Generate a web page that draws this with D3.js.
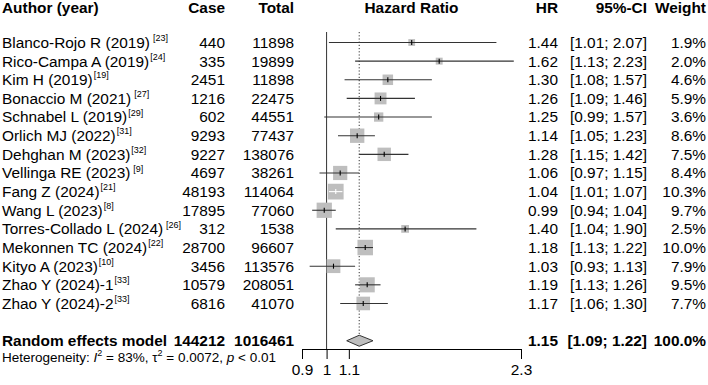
<!DOCTYPE html>
<html>
<head>
<meta charset="utf-8">
<script src="https://cdn.jsdelivr.net/npm/d3@7"></script>
<style>
  body { margin: 0; background: #fff; }
  svg text { font-family: "Liberation Sans", Arial, sans-serif; fill: #000; }
</style>
</head>
<body>
<div id="chart"></div>
<script>
// study rows
const authors = ["Blanco-Rojo R (2019)", "Rico-Campa A (2019)", "Kim H (2019)", "Bonaccio M (2021)",
  "Schnabel L (2019)", "Orlich MJ (2022)", "Dehghan M (2023)", "Vellinga RE (2023)", "Fang Z (2024)",
  "Wang L (2023)", "Torres-Collado L (2024)", "Mekonnen TC (2024)", "Kityo A (2023)",
  "Zhao Y (2024)-1", "Zhao Y (2024)-2"];
const refs = ["23", "24", "19", "27", "29", "31", "32", "9", "21", "8", "26", "22", "10", "33", "33"];
const refGap = [true, false, false, true, false, false, false, true, false, false, true, false, false, false, false];
const cases = [440, 335, 2451, 1216, 602, 9293, 9227, 4697, 48193, 17895, 312, 28700, 3456, 10579, 6816];
const totals = [11898, 19899, 11898, 22475, 44551, 77437, 138076, 38261, 114064, 77060, 1538, 96607, 113576, 208051, 41070];
const hr = [1.44, 1.62, 1.30, 1.26, 1.25, 1.14, 1.28, 1.06, 1.04, 0.99, 1.40, 1.18, 1.03, 1.19, 1.17];
const lower = [1.01, 1.13, 1.08, 1.09, 0.99, 1.05, 1.15, 0.97, 1.01, 0.94, 1.04, 1.13, 0.93, 1.13, 1.06];
const upper = [2.07, 2.23, 1.57, 1.46, 1.57, 1.23, 1.42, 1.15, 1.07, 1.04, 1.90, 1.22, 1.13, 1.26, 1.30];
const weights = [1.9, 2.0, 4.6, 5.9, 3.6, 8.6, 7.5, 8.4, 10.3, 9.7, 2.5, 10.0, 7.9, 9.5, 7.7];

// pooled estimate
const pooled = { label: "Random effects model", cases: 144212, total: 1016461, hr: 1.15, lower: 1.09, upper: 1.22, weight: 100.0 };
const tickValues = [0.9, 1, 1.1, 2.3];

const width = 708, height = 385;
const fs = 15.4;
const rowY = i => 42.5 + i * 18.64;

const svg = d3.select("#chart").append("svg")
  .attr("width", width)
  .attr("height", height);

const x = d3.scaleLog().domain([0.9, 2.3]).range([302, 521]);
const fmt2 = d3.format(".2f");
const pct = d => d3.format(".1f")(d) + "%";

// column right edges
const col = { author: 2, cases: 225, total: 294, hr: 558, ci: 647, weight: 706 };

// headers
const hy = 12.5;
const header = svg.append("g").attr("font-weight", "bold").attr("font-size", fs);
header.append("text").attr("x", col.author).attr("y", hy).text("Author (year)");
header.append("text").attr("x", col.cases).attr("y", hy).attr("text-anchor", "end").text("Case");
header.append("text").attr("x", col.total).attr("y", hy).attr("text-anchor", "end").text("Total");
header.append("text").attr("x", (x.range()[0] + x.range()[1]) / 2).attr("y", hy).attr("text-anchor", "middle").text("Hazard Ratio");
header.append("text").attr("x", col.hr).attr("y", hy).attr("text-anchor", "end").text("HR");
header.append("text").attr("x", col.ci).attr("y", hy).attr("text-anchor", "end").text("95%-CI");
header.append("text").attr("x", col.weight).attr("y", hy).attr("text-anchor", "end").text("Weight");

// reference lines
svg.append("line")
  .attr("x1", x(1)).attr("x2", x(1))
  .attr("y1", 32).attr("y2", 349)
  .attr("stroke", "#333").attr("stroke-width", 1);
svg.append("line")
  .attr("x1", x(pooled.hr)).attr("x2", x(pooled.hr))
  .attr("y1", 32).attr("y2", rowY(16) - 6)
  .attr("stroke", "#333").attr("stroke-width", 1).attr("stroke-dasharray", "1.2,2");

// study rows
const rows = svg.append("g")
  .selectAll("g")
  .data(d3.range(authors.length))
  .join("g")
    .attr("transform", i => `translate(0,${rowY(i)})`)
    .attr("font-size", fs);

const lab = rows.append("text")
  .attr("x", col.author).attr("dy", "0.35em")
  .text(i => authors[i]);
lab.append("tspan")
  .attr("font-size", 9).attr("dy", "-0.75em").attr("dx", i => refGap[i] ? 3 : 1)
  .text(i => `[${refs[i]}]`);

rows.append("text").attr("x", col.cases).attr("dy", "0.35em").attr("text-anchor", "end").text(i => cases[i]);
rows.append("text").attr("x", col.total).attr("dy", "0.35em").attr("text-anchor", "end").text(i => totals[i]);
rows.append("text").attr("x", col.hr).attr("dy", "0.35em").attr("text-anchor", "end").text(i => fmt2(hr[i]));
rows.append("text").attr("x", col.ci).attr("dy", "0.35em").attr("text-anchor", "end")
  .text(i => `[${fmt2(lower[i])}; ${fmt2(upper[i])}]`);
rows.append("text").attr("x", col.weight).attr("dy", "0.35em").attr("text-anchor", "end").text(i => pct(weights[i]));

// boxes sized by weight (area)
const side = i => 4.9 * Math.sqrt(weights[i]);
rows.append("rect")
  .attr("x", i => x(hr[i]) - side(i) / 2)
  .attr("y", i => -side(i) / 2)
  .attr("width", side).attr("height", side)
  .attr("fill", "#bebebe");

// CI line is white when it fits inside the box
const inside = i => x(lower[i]) >= x(hr[i]) - side(i) / 2 && x(upper[i]) <= x(hr[i]) + side(i) / 2;
rows.append("line")
  .attr("x1", i => x(lower[i])).attr("x2", i => x(upper[i]))
  .attr("stroke", i => inside(i) ? "#fff" : "#333").attr("stroke-width", 1.1);
rows.append("line")
  .attr("x1", i => x(hr[i])).attr("x2", i => x(hr[i]))
  .attr("y1", -2.5).attr("y2", 2.5)
  .attr("stroke", i => inside(i) ? "#fff" : "#000").attr("stroke-width", 1.1);

// pooled row
const py = rowY(16);
const pg = svg.append("g").attr("transform", `translate(0,${py})`).attr("font-size", fs).attr("font-weight", "bold");
pg.append("text").attr("x", col.author).attr("dy", "0.35em").text(pooled.label);
pg.append("text").attr("x", col.cases).attr("dy", "0.35em").attr("text-anchor", "end").text(pooled.cases);
pg.append("text").attr("x", col.total).attr("dy", "0.35em").attr("text-anchor", "end").text(pooled.total);
pg.append("text").attr("x", col.hr).attr("dy", "0.35em").attr("text-anchor", "end").text(fmt2(pooled.hr));
pg.append("text").attr("x", col.ci).attr("dy", "0.35em").attr("text-anchor", "end")
  .text(`[${fmt2(pooled.lower)}; ${fmt2(pooled.upper)}]`);
pg.append("text").attr("x", col.weight).attr("dy", "0.35em").attr("text-anchor", "end").text(pct(pooled.weight));
pg.append("path")
  .attr("d", `M${x(pooled.lower)},0 L${x(pooled.hr)},-5.5 L${x(pooled.upper)},0 L${x(pooled.hr)},5.5 Z`)
  .attr("fill", "#bebebe").attr("stroke", "#333").attr("stroke-width", 1);

// heterogeneity
const het = svg.append("text").attr("x", col.author).attr("y", 362).attr("font-size", 13.5);
het.append("tspan").text("Heterogeneity: ");
het.append("tspan").attr("font-style", "italic").text("I");
het.append("tspan").attr("font-size", 9).attr("dy", -6).text("2");
het.append("tspan").attr("dy", 6).text(" = 83%, \u03c4");
het.append("tspan").attr("font-size", 9).attr("dy", -6).text("2");
het.append("tspan").attr("dy", 6).text(" = 0.0072, ");
het.append("tspan").attr("font-style", "italic").text("p");
het.append("tspan").text(" < 0.01");

// axis
svg.append("g")
  .attr("transform", "translate(0,349)")
  .call(d3.axisBottom(x).tickValues(tickValues).tickFormat(d => d).tickSize(10).tickSizeOuter(0))
  .call(g => g.select(".domain").attr("stroke", "#000"))
  .call(g => g.selectAll(".tick line").attr("stroke", "#000"))
  .call(g => g.selectAll(".tick text")
    .attr("font-size", fs).attr("font-family", "Liberation Sans, Arial, sans-serif")
    .attr("fill", "#000").attr("y", 15));
</script>
</body>
</html>
